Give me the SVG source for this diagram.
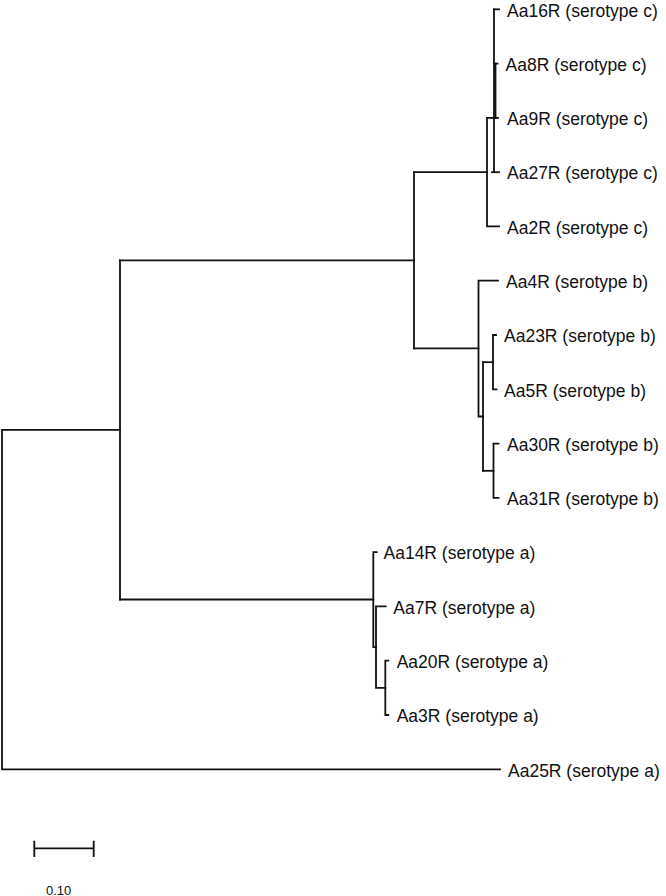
<svg xmlns="http://www.w3.org/2000/svg" width="666" height="896" viewBox="0 0 666 896">
<style>
.br{fill:none;stroke:#111;stroke-width:1.8;stroke-linecap:square}
.lb{font-family:"Liberation Sans",Arial,sans-serif;font-size:17.5px;fill:#111}
.sc{font-family:"Liberation Sans",Arial,sans-serif;font-size:13px;fill:#111}
</style>
<rect width="666" height="896" fill="#fff"/>
<g id="connectors">
<!-- root -->
<path class="br" d="M120,429.9 H2 V769.3 H500"/>
<!-- W -->
<path class="br" d="M120,260.3 V599.5"/>
<path class="br" d="M120,260.3 H414"/>
<path class="br" d="M120,599.5 H373.3"/>
<!-- P -->
<path class="br" d="M414,172.2 V348.4"/>
<path class="br" d="M414,172.2 H487"/>
<path class="br" d="M414,348.4 H478.5"/>
<!-- clade c -->
<path class="br" d="M487,117.9 V226.4 H499"/>
<path class="br" d="M487,117.9 H498"/>
<path class="br" d="M494,9.3 V172.2"/>
<path class="br" d="M495.5,63.6 V117.9"/>
<path class="br" d="M494,9.3 H499"/>
<path class="br" d="M494,63.6 H497.5"/>
<path class="br" d="M492,172.2 H499"/>
<!-- clade b -->
<path class="br" d="M498,280.7 H478.5 V416.5 H483"/>
<path class="br" d="M483,362.2 V470.8"/>
<path class="br" d="M483,362.2 H493"/>
<path class="br" d="M483,470.8 H493.5"/>
<path class="br" d="M496,335 H493 V389.3 H496.5"/>
<path class="br" d="M498.5,443.6 H493.5 V497.9 H498.5"/>
<!-- clade a -->
<path class="br" d="M376.7,552.2 H373.3 V647.2 H376"/>
<path class="br" d="M385.7,606.4 H376 V687.9 H385.3"/>
<path class="br" d="M388.3,660.7 H385.3 V715 H388.3"/>
<!-- scale bar -->
<path class="br" d="M34.3,848.3 H93.7 M34.3,841.7 V856 M93.7,841.7 V856"/>
</g>
<g id="Aa16R"><text class="lb" x="507" y="16.5">Aa16R (serotype c)</text></g>
<g id="Aa8R"><text class="lb" x="505.5" y="70.8">Aa8R (serotype c)</text></g>
<g id="Aa9R"><text class="lb" x="507" y="125.1">Aa9R (serotype c)</text></g>
<g id="Aa27R"><text class="lb" x="507" y="179.4">Aa27R (serotype c)</text></g>
<g id="Aa2R"><text class="lb" x="507" y="233.6">Aa2R (serotype c)</text></g>
<g id="Aa4R"><text class="lb" x="506" y="287.9">Aa4R (serotype b)</text></g>
<g id="Aa23R"><text class="lb" x="504" y="342.2">Aa23R (serotype b)</text></g>
<g id="Aa5R"><text class="lb" x="504" y="396.5">Aa5R (serotype b)</text></g>
<g id="Aa30R"><text class="lb" x="507" y="450.8">Aa30R (serotype b)</text></g>
<g id="Aa31R"><text class="lb" x="507" y="505.1">Aa31R (serotype b)</text></g>
<g id="Aa14R"><text class="lb" x="383.5" y="559.4">Aa14R (serotype a)</text></g>
<g id="Aa7R"><text class="lb" x="393.3" y="613.6">Aa7R (serotype a)</text></g>
<g id="Aa20R"><text class="lb" x="396.7" y="667.9">Aa20R (serotype a)</text></g>
<g id="Aa3R"><text class="lb" x="396.7" y="722.2">Aa3R (serotype a)</text></g>
<g id="Aa25R"><text class="lb" x="508" y="776.5">Aa25R (serotype a)</text></g>
<g id="scale"><text class="sc" x="46" y="894.5">0.10</text></g>
</svg>
